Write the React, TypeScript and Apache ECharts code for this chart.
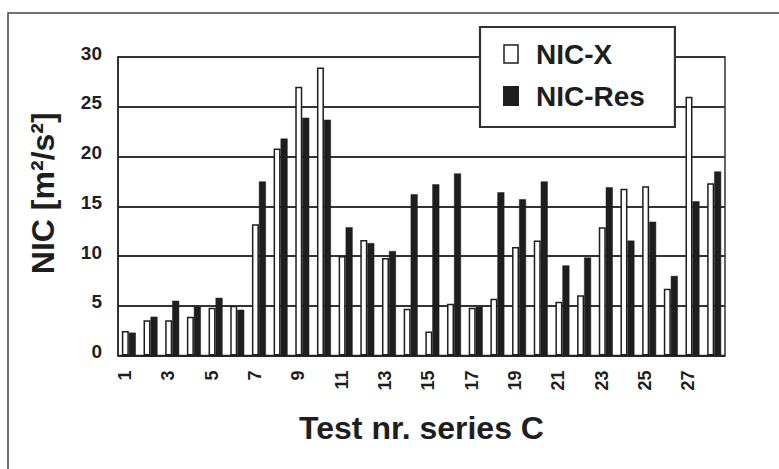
import React, { useEffect, useRef } from "react";
import * as echarts from "echarts";

// Test numbers of series C
const categories: string[] = [
  "1", "2", "3", "4", "5", "6", "7", "8", "9", "10",
  "11", "12", "13", "14", "15", "16", "17", "18", "19", "20",
  "21", "22", "23", "24", "25", "26", "27", "28",
];

// NIC values [m²/s²]
const nicX: number[] = [
  2.45, 3.55, 3.55, 3.9, 4.8, 5.0, 13.2, 20.8, 27.0, 28.95,
  10.0, 11.6, 9.8, 4.7, 2.4, 5.2, 4.8, 5.7, 10.9, 11.55,
  5.4, 6.05, 12.9, 16.75, 17.0, 6.7, 26.0, 17.3,
];
const nicRes: number[] = [
  2.3, 3.9, 5.5, 4.9, 5.8, 4.6, 17.5, 21.8, 23.9, 23.7,
  12.9, 11.3, 10.5, 16.2, 17.2, 18.3, 4.9, 16.4, 15.7, 17.5,
  9.05, 9.85, 16.9, 11.55, 13.45, 8.0, 15.5, 18.5,
];

const yTicks = { min: 0, max: 30, interval: 5 };

const FONT = "'Liberation Sans', Arial, Helvetica, sans-serif";
const INK = "#1e1e1e";

export default function App() {
  const ref = useRef<HTMLDivElement>(null);

  useEffect(() => {
    document.body.style.margin = "0";
    if (!ref.current) return;
    const chart = echarts.init(ref.current, undefined, { renderer: "svg" });
    chart.setOption({
      animation: false,
      backgroundColor: "#ffffff",
      textStyle: { fontFamily: FONT },
      graphic: [
        {
          type: "rect",
          shape: { x: 8, y: 13, width: 820, height: 520 },
          style: { fill: "none", stroke: "#444", lineWidth: 1.5 },
          silent: true,
          z: -1,
        },
      ],
      legend: {
        orient: "vertical",
        left: 480,
        top: 27,
        padding: [12, 30, 16, 23],
        itemGap: 12,
        itemWidth: 14,
        itemHeight: 18,
        backgroundColor: "#ffffff",
        borderColor: "#333",
        borderWidth: 2.2,
        textStyle: {
          fontFamily: FONT,
          fontWeight: "bold",
          fontSize: 28,
          color: INK,
          lineHeight: 30,
          padding: [0, 0, 0, 13],
        },
        data: [
          {
            name: "NIC-X",
            icon: "rect",
            itemStyle: { color: "#ffffff", borderColor: INK, borderWidth: 1.5 },
          },
          { name: "NIC-Res", icon: "rect", itemStyle: { color: INK } },
        ],
      },
      grid: {
        left: 118,
        right: 54,
        top: 57,
        bottom: 113.5,
        show: true,
        borderColor: "#333",
        borderWidth: 1.5,
      },
      xAxis: {
        type: "category",
        data: categories,
        name: "Test nr. series C",
        nameLocation: "middle",
        nameGap: 56,
        nameTextStyle: {
          fontFamily: FONT,
          fontWeight: "bold",
          fontSize: 32,
          color: INK,
        },
        axisLine: { lineStyle: { color: "#222", width: 1.5 } },
        axisTick: { show: false },
        axisLabel: {
          interval: 1,
          rotate: 90,
          margin: 15,
          fontFamily: FONT,
          fontWeight: "bold",
          fontSize: 18,
          color: INK,
          verticalAlign: "bottom",
          lineHeight: 8,
        },
      },
      yAxis: {
        type: "value",
        min: yTicks.min,
        max: yTicks.max,
        interval: yTicks.interval,
        name: "NIC [m²/s²]",
        nameLocation: "middle",
        nameGap: 59,
        nameRotate: 90,
        nameTextStyle: {
          fontFamily: FONT,
          fontWeight: "bold",
          fontSize: 32,
          color: INK,
          padding: [0, 0, 0, 26],
        },
        axisLine: { show: true, lineStyle: { color: "#222", width: 1.5 } },
        axisTick: { show: false },
        splitLine: { lineStyle: { color: "#333", width: 1.8 } },
        axisLabel: {
          margin: 16,
          fontFamily: FONT,
          fontWeight: "bold",
          fontSize: 19,
          color: INK,
          verticalAlign: "bottom",
          lineHeight: 8,
        },
      },
      series: [
        {
          name: "NIC-X",
          type: "bar",
          data: nicX,
          barWidth: 7,
          barGap: "0%",
          itemStyle: { color: "#ffffff", borderColor: INK, borderWidth: 1.5 },
        },
        {
          name: "NIC-Res",
          type: "bar",
          data: nicRes,
          barWidth: 7,
          barGap: "0%",
          itemStyle: { color: INK, borderColor: INK, borderWidth: 0.5 },
        },
      ],
    });
    return () => chart.dispose();
  }, []);

  return <div ref={ref} style={{ width: 779, height: 469 }} />;
}
